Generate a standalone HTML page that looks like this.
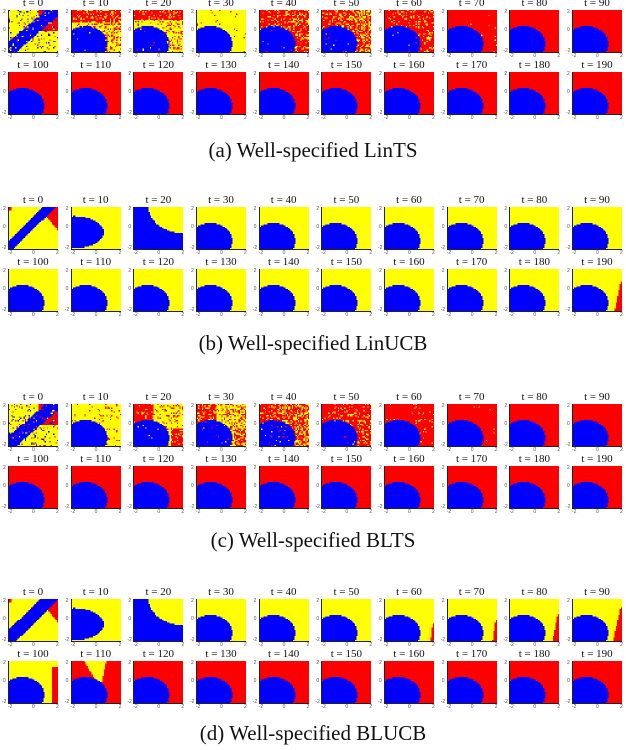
<!DOCTYPE html>
<html><head><meta charset="utf-8"><style>
body{margin:0;width:626px;height:750px;background:#fff;position:relative;overflow:hidden;font-family:"Liberation Serif",serif}
.plot{position:absolute;width:50px;height:43px}
.plot canvas{width:50px;height:43px;display:block;image-rendering:pixelated;border-left:1px solid #222;border-bottom:1px solid #222;box-sizing:border-box}
.ttl{position:absolute;left:-10px;width:70px;top:-13px;text-align:center;font-size:11px;line-height:12px;color:#111;white-space:nowrap}
.tk{position:absolute;font-size:5px;color:#555;font-family:"Liberation Sans",sans-serif;line-height:5px}
.cap{position:absolute;left:0;width:626px;text-align:center;font-size:21px;color:#111;line-height:24px}
</style></head><body>
<div id="root"></div>
<div class="cap" style="top:138px">(a) Well-specified LinTS</div>
<div class="cap" style="top:331px">(b) Well-specified LinUCB</div>
<div class="cap" style="top:528px">(c) Well-specified BLTS</div>
<div class="cap" style="top:721px">(d) Well-specified BLUCB</div>
<script>
const tLabels=[0,10,20,30,40,50,60,70,80,90,100,110,120,130,140,150,160,170,180,190];
const panelNames=['a','b','c','d'];
const kindsA=['mix','circ','circ','circ','circ','circ','circ','circ','circ','circ','circ','circ','circ','circ','circ','circ','circ','circ','circ','circ'];
const baseA=['Y','Y','Y','Y','R','R','R','R','R','R','R','R','R','R','R','R','R','R','R','R'];
const noiseA=[0.15,0.2,0.15,0.02,0.2,0.3,0.12,0.01,0,0,0,0,0,0,0,0,0,0,0,0];
const topA=[0,0.3,0.25,0,0,0,0,0,0,0,0,0,0,0,0,0,0,0,0,0];
const kindsB=['diag','ellipse','arc','circ','circ','circ','circ','circ','circ','circ','circ','circ','circ','circ','circ','circ','circ','circ','circ','circ'];
const baseB=['Y','Y','Y','Y','Y','Y','Y','Y','Y','Y','Y','Y','Y','Y','Y','Y','Y','Y','Y','Y'];
const noiseB=[0,0,0,0,0,0,0,0,0,0,0,0,0,0,0,0,0,0,0,0];
const sliverB=[0,0,0,0,0,0,0,0,0,0,0,0,0,0,0,0,0,0,0,0.12];
const kindsC=['mix','circ','split','split','circ','circ','circ','circ','circ','circ','circ','circ','circ','circ','circ','circ','circ','circ','circ','circ'];
const baseC=['Y','Y','R','R','R','R','R','R','R','R','R','R','R','R','R','R','R','R','R','R'];
const noiseC=[0.15,0.05,0.12,0.25,0.3,0.15,0.04,0.01,0,0,0,0,0,0,0,0,0,0,0,0];
const kindsD=['diag','ellipse','arc','circ','circ','circ','circ','circ','circ','circ','strip','wedge','circ','circ','circ','circ','circ','circ','circ','circ'];
const baseD=['Y','Y','Y','Y','Y','Y','Y','Y','Y','Y','Y','R','R','R','R','R','R','R','R','R'];
const sliverD=[0,0,0,0,0,0,0.04,0.06,0.1,0.15,0,0,0,0,0,0,0,0,0,0];
const sliverStartD=[1,1,1,1,1,1,0.6,0.5,0.35,0.2,1,1,1,1,1,1,1,1,1,1];

const panelTop=[10,207,404,599];
const COL={B:[0,0,255],R:[255,0,0],Y:[255,255,0]};
function hash(a,b,c){let h=(a*374761393+b*668265263+c*2147483647)|0;h=(h^(h>>>13))*1274126177|0;h^=h>>>16;return ((h>>>0)%10000)/10000;}
function inCirc(u,v){const dx=(u-0.28)/0.44,dy=(v-0.8)/0.42;return dx*dx+dy*dy<1;}
function cell(p,i,u,v,r,r2){
  let kind,base,noise=0,top=0,sl=0,sl0=1;
  if(p===0){kind=kindsA[i];base=baseA[i];noise=noiseA[i];top=topA[i];}
  else if(p===1){kind=kindsB[i];base=baseB[i];noise=noiseB[i];sl=sliverB[i];sl0=0.3;}
  else if(p===2){kind=kindsC[i];base=baseC[i];noise=noiseC[i];}
  else{kind=kindsD[i];base=baseD[i];sl=sliverD[i];sl0=sliverStartD[i];}
  if(kind==='mix'){
    const d=(1-v)-u;
    let c=Math.abs(d-0.05)<0.2?'B':(u>0.6&&v<0.5?'R':'Y');
    if(r<noise){c=r2<0.4?'B':(r2<0.7?'R':'Y');}
    return c;
  }
  if(kind==='diag'){
    const d=(1-v)-1.15*u;
    const w=p===3?0.22:0.15;
    if(Math.abs(d-0.05)<w) return 'B';
    if(d<0&&u>0.62&&v<(u-0.62)*1.5) return 'R';
    if(u<0.05&&v<0.08) return 'R';
    return 'Y';
  }
  if(kind==='ellipse'){
    const dx=(u-0.05)/0.6,dy=(v-0.6)/0.38;
    return dx*dx+dy*dy<1?'B':'Y';
  }
  if(kind==='arc'){
    const dx=(u-1)/0.7,dy=v/0.62;
    return dx*dx+dy*dy<1?'Y':'B';
  }
  if(inCirc(u,v)){
    if(noise>0.1&&r<noise*0.12) return r2<0.5?'Y':'R';
    return 'B';
  }
  if(kind==='strip'){ if(u>0.88&&v>0.15) return 'R'; return 'Y';}
  if(kind==='wedge'){
    const l=0.25+0.5*v,rr=0.7-0.17*v;
    if(v<0.6&&u>l&&u<rr) return 'Y';
    return 'R';
  }
  if(sl>0&&v>sl0&&u>0.97-sl*(v-sl0)/(1-sl0)) return 'R';
  let c=base;
  if(kind==='split'){c=(u<0.4||(v>0.75&&u<0.7))?'R':'Y'; if(u>0.75&&v>0.6)c='R';}
  if(top>0&&v<top) c='R';
  if(r<noise*(0.5+u)) c=(c==='R'?'Y':'R');
  return c;
}
const root=document.getElementById('root');
for(let p=0;p<4;p++){
  for(let i=0;i<20;i++){
    const row=Math.floor(i/10),col=i%10;
    const x=8+col*62.67,y=panelTop[p]+row*62;
    const div=document.createElement('div');
    div.className='plot';
    
    
    div.style.left=x+'px';div.style.top=y+'px';
    const t=document.createElement('div');t.className='ttl';t.textContent='t = '+tLabels[i];
    
    
    div.appendChild(t);
    const cv=document.createElement('canvas');cv.width=40;cv.height=34;
    
    
    const ctx=cv.getContext('2d');const img=ctx.createImageData(40,34);
    for(let yy=0;yy<34;yy++)for(let xx=0;xx<40;xx++){
      const u=(xx+0.5)/40,v=(yy+0.5)/34;
      const c=COL[cell(p,i,u,v,hash(xx,yy,p*20+i),hash(yy+7,xx+3,p*31+i))];
      const k=(yy*40+xx)*4;img.data[k]=c[0];img.data[k+1]=c[1];img.data[k+2]=c[2];img.data[k+3]=255;
    }
    ctx.putImageData(img,0,0);
    div.appendChild(cv);
    [['2',-5,0],['0',-5,18],['-2',-6,39]].forEach(a=>{const s=document.createElement('div');s.className='tk';s.textContent=a[0];s.style.left=a[1]+'px';s.style.top=a[2]+'px';
      
      
      div.appendChild(s);});
    [['-2',0],['0',24],['2',48]].forEach(a=>{const s=document.createElement('div');s.className='tk';s.textContent=a[0];s.style.left=a[1]+'px';s.style.top='44px';
      
      
      div.appendChild(s);});
    root.appendChild(div);
  }
}
</script>
</body></html>
